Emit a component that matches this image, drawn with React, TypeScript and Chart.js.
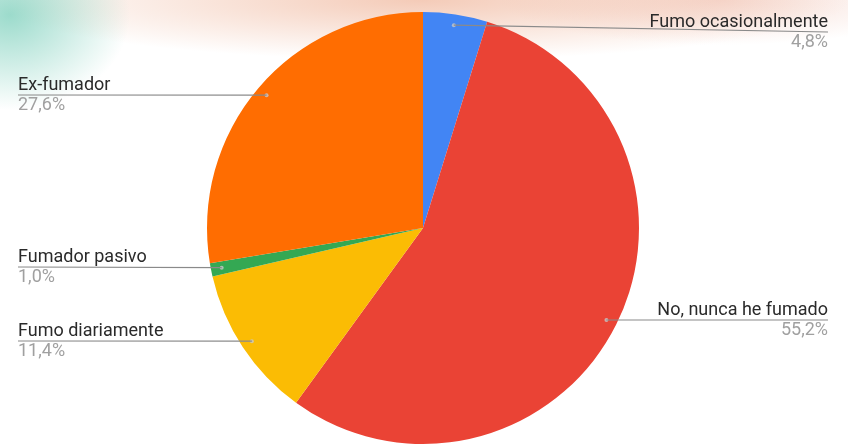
import React, { useEffect, useRef } from "react";
import { Chart, registerables } from "chart.js";

Chart.register(...registerables);

const categories = [
  "Fumo ocasionalmente",
  "No, nunca he fumado",
  "Fumo diariamente",
  "Fumador pasivo",
  "Ex-fumador",
];
const values = [4.8, 55.2, 11.4, 1.0, 27.6];
const percentLabels = ["4,8%", "55,2%", "11,4%", "1,0%", "27,6%"];
const colors = ["#4285F4", "#EA4335", "#FBBC04", "#34A853", "#FF6D01"];

// label layout (style): side and leader-line y
const labelLayout = [
  { side: "right", lineY: 32 },
  { side: "right", lineY: 320 },
  { side: "left", lineY: 341 },
  { side: "left", lineY: 267 },
  { side: "left", lineY: 95 },
];

const labelPlugin = {
  id: "outLabels",
  afterDraw(chart: any) {
    const ctx = chart.ctx;
    const meta = chart.getDatasetMeta(0);
    const W = chart.width;
    meta.data.forEach((arc: any, i: number) => {
      const mid = (arc.startAngle + arc.endAngle) / 2;
      const r = arc.outerRadius * 0.95;
      const dx = arc.x + Math.cos(mid) * r;
      const dy = arc.y + Math.sin(mid) * r;
      const lay = labelLayout[i];
      const leftX = 18;
      const rightX = W - 20;
      ctx.save();
      // dot
      ctx.fillStyle = "rgba(200,200,200,0.8)";
      ctx.beginPath();
      ctx.arc(dx, dy, 2, 0, Math.PI * 2);
      ctx.fill();
      // leader line
      ctx.strokeStyle = "#8a8a8a";
      ctx.lineWidth = 1.2;
      ctx.beginPath();
      ctx.moveTo(dx, dy);
      ctx.lineTo(lay.side === "right" ? rightX : leftX, lay.lineY);
      ctx.stroke();
      // texts
      ctx.font = "18px Roboto, Arial, sans-serif";
      ctx.textAlign = lay.side === "right" ? "right" : "left";
      const tx = lay.side === "right" ? rightX : leftX;
      ctx.textBaseline = "alphabetic";
      ctx.fillStyle = "#2a2a2a";
      ctx.fillText(categories[i], tx, lay.lineY - 5);
      ctx.textBaseline = "top";
      ctx.fillStyle = "#a0a0a0";
      ctx.fillText(percentLabels[i], tx, lay.lineY + 1);
      ctx.restore();
    });
  },
};

export default function App() {
  const ref = useRef<HTMLCanvasElement | null>(null);
  useEffect(() => {
    if (!ref.current) return;
    const chart = new Chart(ref.current, {
      type: "pie",
      data: {
        labels: categories,
        datasets: [
          {
            data: values,
            backgroundColor: colors,
            borderWidth: 0,
          },
        ],
      },
      options: {
        animation: false,
        responsive: false,
        maintainAspectRatio: false,
        layout: { padding: { left: 207, right: 209, top: 12, bottom: 3 } },
        plugins: {
          legend: { display: false },
          tooltip: { enabled: false },
        },
      },
      plugins: [labelPlugin],
    });
    return () => chart.destroy();
  }, []);
  return (
    <div
      style={{
        position: "fixed",
        left: 0,
        top: 0,
        width: 848,
        height: 447,
        background:
          "radial-gradient(ellipse 120px 95px at 10px 15px, rgba(90,195,170,0.6), rgba(90,195,170,0) 100%)," +
          "radial-gradient(ellipse 430px 60px at 420px 0px, rgba(235,160,125,0.55), rgba(235,160,125,0) 100%)," +
          "radial-gradient(ellipse 220px 45px at 720px 0px, rgba(235,170,150,0.4), rgba(235,170,150,0) 100%)," +
          "#ffffff",
      }}
    >
      <canvas ref={ref} width={848} height={447} style={{ display: "block" }} />
    </div>
  );
}
